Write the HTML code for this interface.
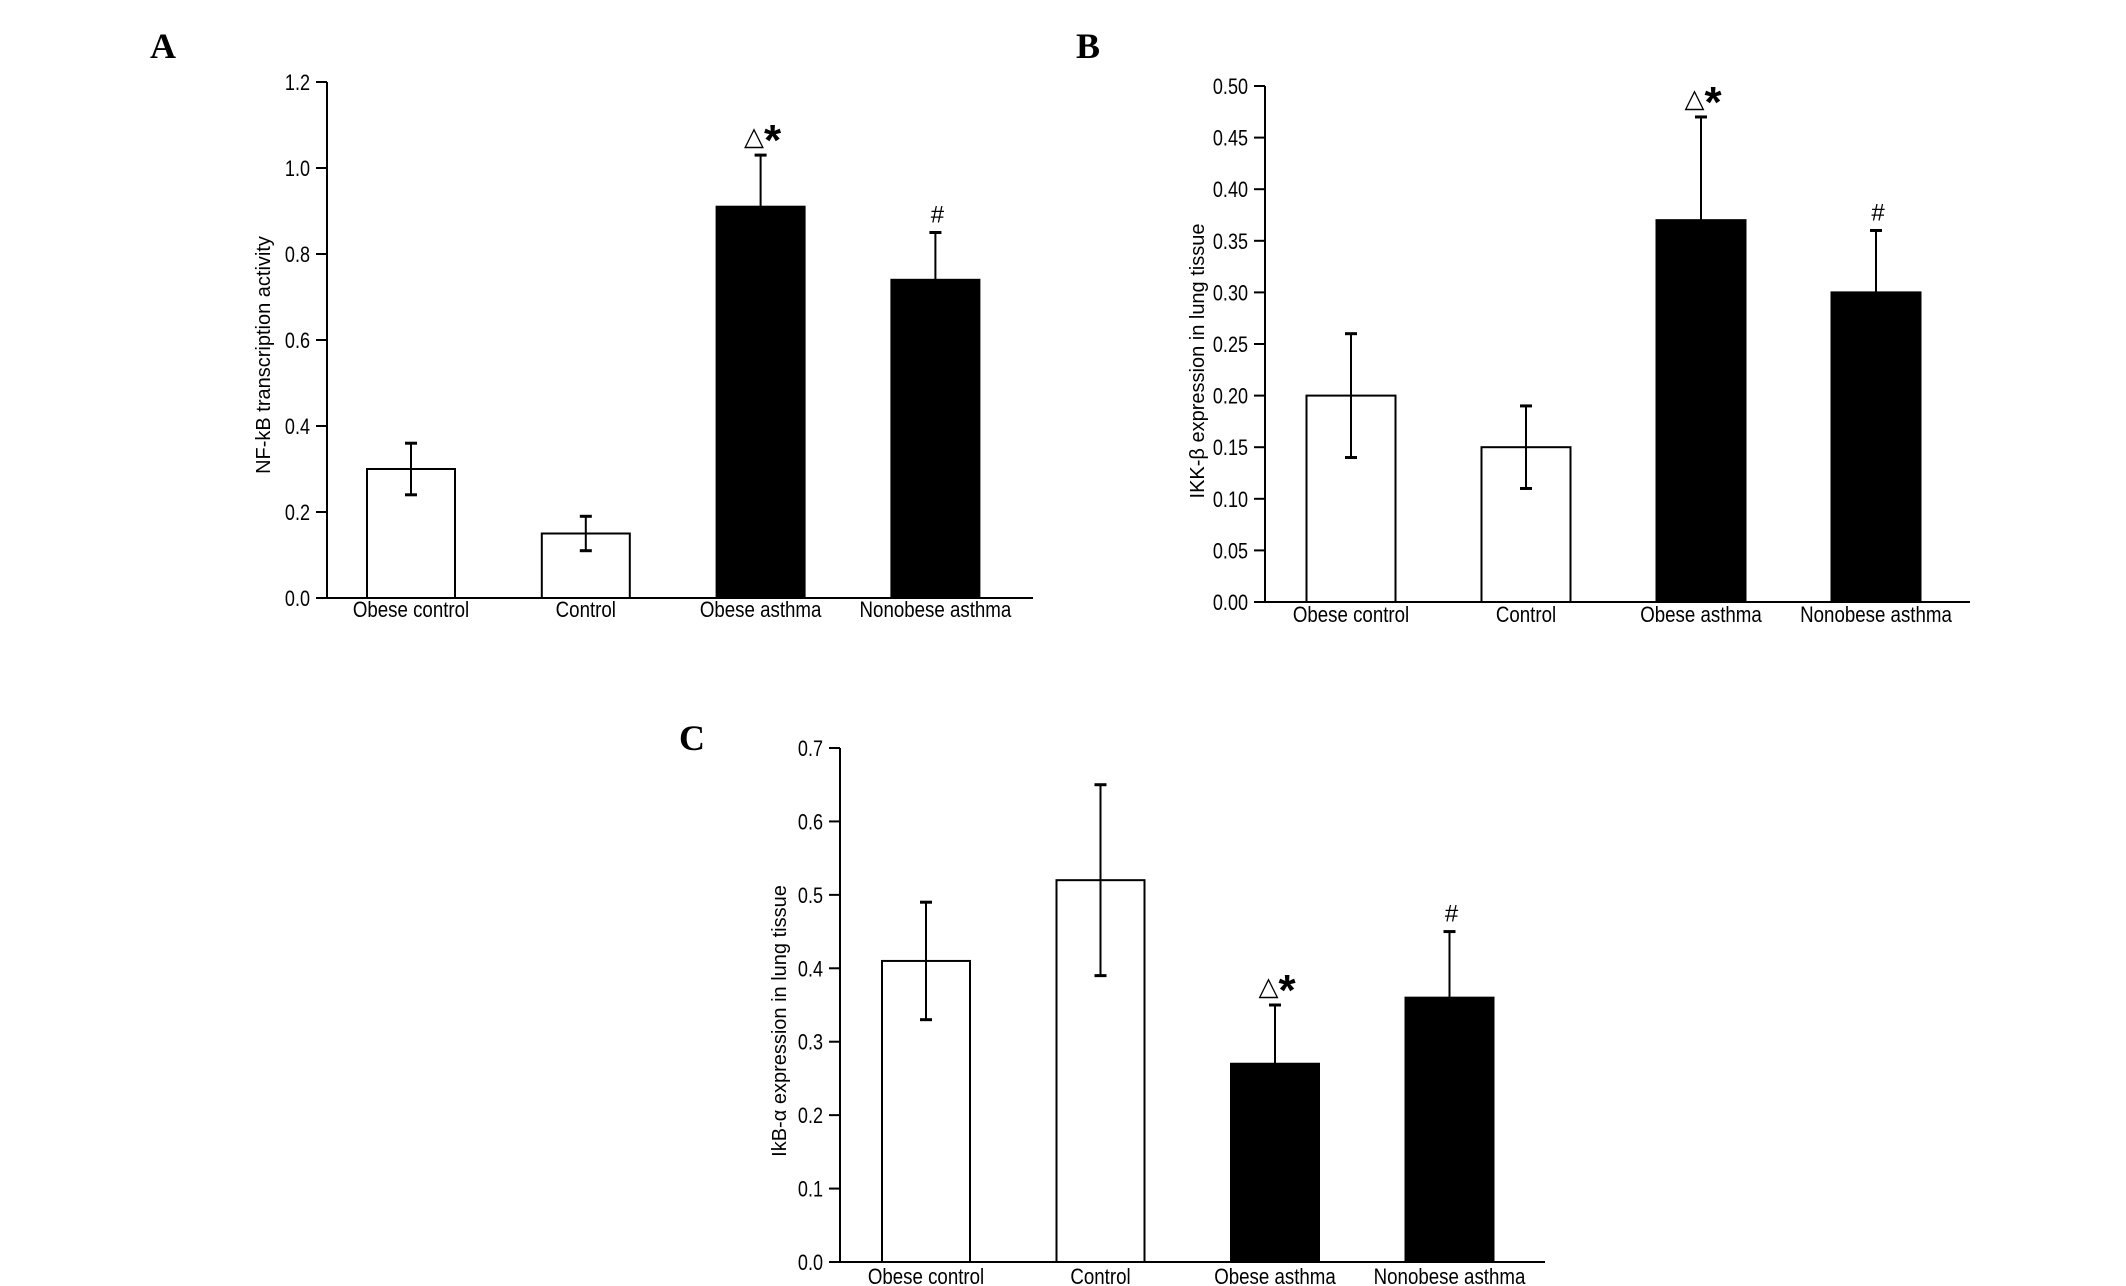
<!DOCTYPE html>
<html><head><meta charset="utf-8"><style>
html,body{margin:0;padding:0;background:#fff;}
svg{display:block;font-family:"Liberation Sans",sans-serif;}
</style></head><body>
<svg id="fig" width="2126" height="1286" viewBox="0 0 2126 1286" xmlns="http://www.w3.org/2000/svg"></svg>
<script>
const categories = ["Obese control","Control","Obese asthma","Nonobese asthma"];
const fills = ["#fff","#fff","#000","#000"];
const valuesA = [0.30,0.15,0.91,0.74];
const errA = [0.06,0.04,0.12,0.11];
const ticksA = ["0.0","0.2","0.4","0.6","0.8","1.0","1.2"];
const valuesB = [0.20,0.15,0.37,0.30];
const errB = [0.06,0.04,0.10,0.06];
const ticksB = ["0.00","0.05","0.10","0.15","0.20","0.25","0.30","0.35","0.40","0.45","0.50"];
const valuesC = [0.41,0.52,0.27,0.36];
const errC = [0.08,0.13,0.08,0.09];
const ticksC = ["0.0","0.1","0.2","0.3","0.4","0.5","0.6","0.7"];
const marksText = ["","","△*","#"];

const svg = document.getElementById('fig');
const NS = "http://www.w3.org/2000/svg";
function mk(tag, attrs, parent){const e=document.createElementNS(NS,tag);for(const k in attrs)e.setAttribute(k,attrs[k]);(parent||svg).appendChild(e);return e;}

function panel(cfg){
  const g = mk('g',{});
  
  
  const ymax = parseFloat(cfg.ticks[cfg.ticks.length-1]);
  const y = v => cfg.y0 - (v/ymax)*(cfg.y0-cfg.yTop);
  const lab = mk('text',{x:cfg.letter[0],y:cfg.letter[1],'font-family':'Liberation Serif, serif','font-weight':'bold','font-size':36},g);
  lab.textContent = cfg.id;
  
  
  const ya = mk('line',{x1:cfg.x0,y1:cfg.yTop,x2:cfg.x0,y2:cfg.y0,stroke:'#000','stroke-width':2},g);
  
  
  const xa = mk('line',{x1:cfg.x0-11,y1:cfg.y0,x2:cfg.xEnd,y2:cfg.y0,stroke:'#000','stroke-width':2},g);
  
  
  cfg.ticks.forEach(t=>{
    const yy = y(parseFloat(t));
    mk('line',{x1:cfg.x0-11,y1:yy,x2:cfg.x0,y2:yy,stroke:'#000','stroke-width':2},g);
    const tx = mk('text',{transform:`translate(${cfg.x0-17},${yy+8}) scale(0.82,1)`,'text-anchor':'end','font-size':22},g);
    tx.textContent = t;
    
    
  });
  const tt = mk('text',{transform:`translate(${cfg.titleX},${cfg.titleY}) rotate(-90)`,'text-anchor':'middle','font-size':20},g);
  tt.textContent = cfg.title;
  
  
  categories.forEach((c,i)=>{
    const cx = cfg.c0 + i*cfg.step;
    const v = cfg.values[i], e = cfg.err[i];
    const b = mk('rect',{x:cx-cfg.bw/2,y:y(v),width:cfg.bw,height:cfg.y0-y(v),fill:fills[i],stroke:'#000','stroke-width':2},g);
    
    
    const lo = fills[i]==='#000' ? v : v-e;
    mk('line',{x1:cx,y1:y(v+e),x2:cx,y2:y(lo),stroke:'#000','stroke-width':2},g);
    mk('line',{x1:cx-6,y1:y(v+e),x2:cx+6,y2:y(v+e),stroke:'#000','stroke-width':3},g);
    if(fills[i]==='#fff') mk('line',{x1:cx-6,y1:y(v-e),x2:cx+6,y2:y(v-e),stroke:'#000','stroke-width':3},g);
    const xl = mk('text',{transform:`translate(${cx},${cfg.labY}) scale(0.85,1)`,'text-anchor':'middle','font-size':22},g);
    xl.textContent = c;
    
    
    if(marksText[i]){
      const m = mk('text',{x:cx+2,y:y(v+e)-10,'text-anchor':'middle'},g);
      
      
      if(marksText[i]==='#'){ m.setAttribute('font-size',24); m.textContent='#'; }
      else {
        const s1 = mk('tspan',{'font-size':26},m); s1.textContent='△';
        const s2 = mk('tspan',{'font-size':44,'font-weight':'bold',dy:10},m); s2.textContent='*';
      }
    }
  });
}

panel({id:'A',letter:[150,58],x0:327,xEnd:1033,yTop:82,y0:598,ticks:ticksA,values:valuesA,err:errA,
  c0:411,step:174.8,bw:88,labY:617,title:'NF-kB transcription activity',titleX:270,titleY:355});
panel({id:'B',letter:[1076,58],x0:1265,xEnd:1970,yTop:86,y0:602,ticks:ticksB,values:valuesB,err:errB,
  c0:1351,step:175,bw:89,labY:622,title:'IKK-β  expression in lung tissue',titleX:1204,titleY:361});
panel({id:'C',letter:[679,750],x0:840,xEnd:1545,yTop:748,y0:1262,ticks:ticksC,values:valuesC,err:errC,
  c0:926,step:174.5,bw:88,labY:1284,title:'IkB-α expression in lung tissue',titleX:786,titleY:1021});
</script>
</body></html>
